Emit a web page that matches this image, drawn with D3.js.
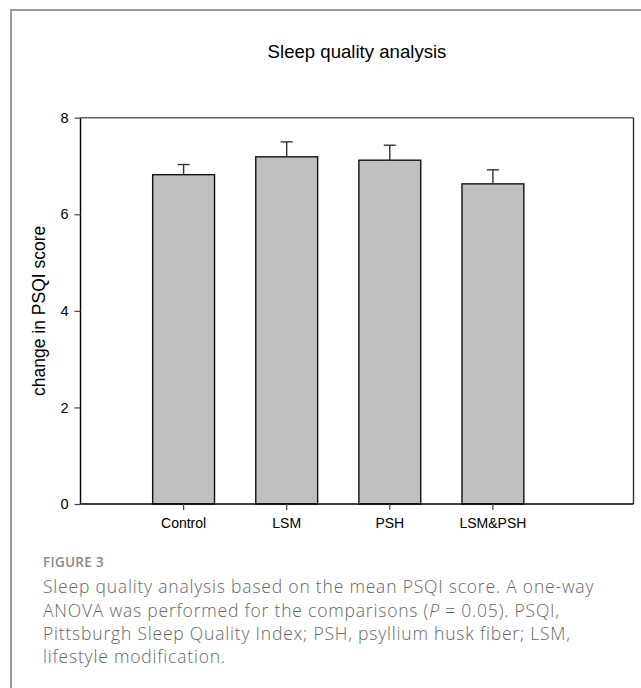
<!DOCTYPE html>
<html>
<head>
<meta charset="utf-8">
<script src="https://cdn.jsdelivr.net/npm/d3@7"></script>
<style>
html,body{margin:0;padding:0;background:#fff;}
svg{display:block;}
</style>
</head>
<body>
<svg id="chart" width="641" height="688"></svg>
<script>
const categories = ["Control", "LSM", "PSH", "LSM&PSH"];
const means = [6.82, 7.19, 7.12, 6.63];
const errors = [0.21, 0.31, 0.31, 0.29];
const yTicks = [0, 2, 4, 6, 8];
const title = "Sleep quality analysis";
const yLabel = "change in PSQI score";
const figLabel = "FIGURE 3";
const captionLines = [
  "Sleep quality analysis based on the mean PSQI score. A one-way",
  "ANOVA was performed for the comparisons (P = 0.05). PSQI,",
  "Pittsburgh Sleep Quality Index; PSH, psyllium husk fiber; LSM,",
  "lifestyle modification."
];

const svg = d3.select("#chart");
const font = "'Liberation Sans', Arial, sans-serif";

// figure frame
svg.append("line").attr("x1", 11).attr("x2", 11).attr("y1", 9).attr("y2", 688)
  .attr("stroke", "#9a9a9a").attr("stroke-width", 2);
svg.append("line").attr("x1", 10).attr("x2", 641).attr("y1", 10).attr("y2", 10)
  .attr("stroke", "#9a9a9a").attr("stroke-width", 2);

const plotL = 80.5, plotR = 633.5, plotT = 117.7, plotB = 504;

const y = d3.scaleLinear().domain([0, 8]).range([plotB, plotT]);
const x = d3.scaleBand().domain(categories).range([plotL, plotL + 103.1 * 5])
  .paddingInner(0.4).paddingOuter(0.7);

// top and right frame of plot
svg.append("line").attr("x1", plotL).attr("x2", plotR).attr("y1", plotT).attr("y2", plotT)
  .attr("stroke", "#666").attr("stroke-width", 1.6);
svg.append("line").attr("x1", plotR).attr("x2", plotR).attr("y1", plotT).attr("y2", plotB)
  .attr("stroke", "#333").attr("stroke-width", 1.4);

// bars
const g = svg.append("g");
g.selectAll("rect.bar").data(categories).join("rect")
  .attr("class", "bar")
  .attr("x", d => x(d))
  .attr("width", x.bandwidth())
  .attr("y", (d, i) => y(means[i]))
  .attr("height", (d, i) => y(0) - y(means[i]))
  .attr("fill", "#c0c0c0")
  .attr("stroke", "#111")
  .attr("stroke-width", 1.4);

// error bars
const cx = d => x(d) + x.bandwidth() / 2;
g.selectAll("line.err").data(categories).join("line")
  .attr("class", "err")
  .attr("x1", cx).attr("x2", cx)
  .attr("y1", (d, i) => y(means[i]))
  .attr("y2", (d, i) => y(means[i] + errors[i]))
  .attr("stroke", "#333").attr("stroke-width", 1.4);
g.selectAll("line.cap").data(categories).join("line")
  .attr("class", "cap")
  .attr("x1", d => cx(d) - 6).attr("x2", d => cx(d) + 6)
  .attr("y1", (d, i) => y(means[i] + errors[i]))
  .attr("y2", (d, i) => y(means[i] + errors[i]))
  .attr("stroke", "#333").attr("stroke-width", 1.4);

// y axis
const yAxis = svg.append("g").attr("transform", `translate(${plotL},0)`)
  .call(d3.axisLeft(y).tickValues(yTicks).tickSize(6).tickPadding(6).tickFormat(d3.format("d")));
yAxis.attr("font-size", null).attr("font-family", null);
yAxis.select(".domain").attr("stroke", "#000").attr("stroke-width", 1.4)
  .attr("d", `M0,${plotT}V${plotB}`);
yAxis.selectAll(".tick line").attr("stroke", "#444").attr("stroke-width", 1.2);
yAxis.selectAll("text").style("font-family", font).style("font-size", "14.5px").attr("fill", "#000");

// x axis
const xAxis = svg.append("g").attr("transform", `translate(0,${plotB})`)
  .call(d3.axisBottom(x).tickSize(6).tickPadding(8));
xAxis.attr("font-size", null).attr("font-family", null);
xAxis.select(".domain").attr("stroke", "#000").attr("stroke-width", 1.4)
  .attr("d", `M${plotL},0H${plotR}`);
xAxis.selectAll(".tick line").attr("stroke", "#444").attr("stroke-width", 1.2);
xAxis.selectAll("text").style("font-family", font).style("font-size", "14px").attr("fill", "#000");

// title
svg.append("text").attr("x", 357).attr("y", 58).attr("text-anchor", "middle")
  .style("font-family", font).style("font-size", "18.6px").attr("fill", "#000").text(title);

// y label
svg.append("text").attr("transform", `translate(45,${(plotT + plotB) / 2}) rotate(-90)`)
  .attr("text-anchor", "middle").style("font-family", font).style("font-size", "17.5px")
  .attr("fill", "#000").text(yLabel);

// caption
svg.append("text").attr("x", 43).attr("y", 567).style("font-family", "'Open Sans', sans-serif")
  .style("font-size", "13.5px").attr("font-weight", 600).style("letter-spacing", "0.3px")
  .attr("fill", "#8a8a8a").text(figLabel);
const cap = svg.append("text").style("font-family", "'Open Sans', sans-serif")
  .style("font-size", "17.5px").attr("font-weight", 300).style("letter-spacing", "0.8px")
  .attr("fill", "#666");
captionLines.forEach((line, i) => {
  const t = cap.append("tspan").attr("x", 43).attr("y", 593.3 + i * 23.3);
  if (i === 1) {
    const parts = line.split("P = ");
    t.append("tspan").text(parts[0]);
    t.append("tspan").attr("font-style", "italic").text("P");
    t.append("tspan").text(" = " + parts[1]);
  } else {
    t.text(line);
  }
});
</script>
</body>
</html>
